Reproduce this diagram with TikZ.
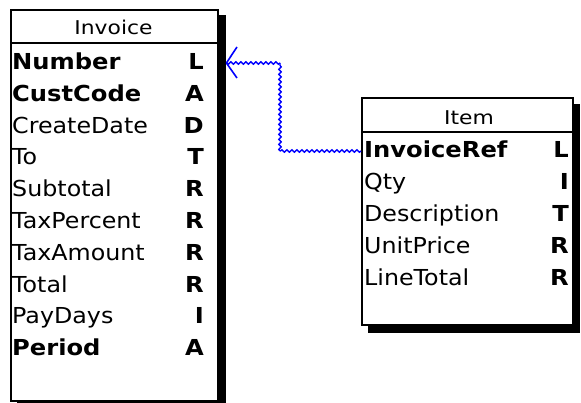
\documentclass[tikz,border=0pt]{standalone}
\usepackage{fontspec}
\newfontfamily\gen{DejaVu Sans}[FakeStretch=1.08]
\newfontfamily\genb{DejaVu Sans}[FakeStretch=1.1]
\newfontfamily\genh{DejaVu Sans}[FakeStretch=1.15]
\usetikzlibrary{decorations.pathmorphing}
\begin{document}
\begin{tikzpicture}[x=1pt,y=-1pt,
  boxframe/.style={draw=black, line width=1.6pt, fill=white, inner sep=0pt, anchor=north west},
  shadowbox/.style={fill=black, inner sep=0pt, anchor=north west},
  sepline/.style={draw=black, line width=1.6pt},
  fld/.style={anchor=base west, inner sep=0pt, font=\gen\fontsize{22}{24}\selectfont},
  bfld/.style={anchor=base west, inner sep=0pt, font=\genb\bfseries\fontsize{22}{24}\selectfont},
  typ/.style={anchor=base east, inner sep=0pt, font=\genb\bfseries\fontsize{22}{24}\selectfont},
  hdr/.style={anchor=base, inner sep=0pt, font=\genh\fontsize{19}{22}\selectfont},
  wavy/.style={draw=blue, line width=1.4pt, decorate, decoration={snake, amplitude=1.2pt, segment length=5pt}},
  prong/.style={draw=blue, line width=1.6pt}]
\useasboundingbox (0,0) rectangle (581,403);
\clip (0,0) rectangle (581,403);
\fill[white] (0,0) rectangle (581,403);

% Invoice table
\node[shadowbox, minimum width=209pt, minimum height=400pt] (invsh) at (17,15) {};
\node[boxframe, minimum width=207pt, minimum height=391pt] (inv) at (10,9) {};
\draw[sepline] ([yshift=-34pt]inv.north west) -- ([yshift=-34pt]inv.north east);
\node[hdr] (invhdr) at (113.5,35) {Invoice};
\node[bfld] (invA) at (12,69.5) {Number};      \node[typ] (invAt) at (204,69.5) {L};
\node[bfld] (invB) at (12,101.3) {CustCode};  \node[typ] (invBt) at (204,101.3) {A};
\node[fld]  (invC) at (12,133.1) {CreateDate}; \node[typ] (invCt) at (204,133.1) {D};
\node[fld]  (invD) at (12,164.9) {To};        \node[typ] (invDt) at (204,164.9) {T};
\node[fld]  (invE) at (12,196.7) {Subtotal};  \node[typ] (invEt) at (204,196.7) {R};
\node[fld]  (invF) at (12,228.5) {TaxPercent}; \node[typ] (invFt) at (204,228.5) {R};
\node[fld]  (invG) at (12,260.3) {TaxAmount}; \node[typ] (invGt) at (204,260.3) {R};
\node[fld]  (invH) at (12,292.1) {Total};     \node[typ] (invHt) at (204,292.1) {R};
\node[fld]  (invI) at (12,323.9) {PayDays};   \node[typ] (invIt) at (204,323.9) {I};
\node[bfld] (invJ) at (12,355.7) {Period};    \node[typ] (invJt) at (204,355.7) {A};

% Item table
\node[shadowbox, minimum width=212pt, minimum height=229pt] (itemsh) at (368,104) {};
\node[boxframe, minimum width=211pt, minimum height=227pt] (item) at (361,97) {};
\draw[sepline] ([yshift=-35pt]item.north west) -- ([yshift=-35pt]item.north east);
\node[hdr] (itemhdr) at (469,125) {Item};
\node[bfld] (itA) at (364,158) {InvoiceRef};  \node[typ] (itAt) at (569,158) {L};
\node[fld]  (itB) at (364,189.8) {Qty};       \node[typ] (itBt) at (569,189.8) {I};
\node[fld]  (itC) at (364,221.6) {Description}; \node[typ] (itCt) at (569,221.6) {T};
\node[fld]  (itD) at (364,253.4) {UnitPrice}; \node[typ] (itDt) at (569,253.4) {R};
\node[fld]  (itE) at (364,285.2) {LineTotal}; \node[typ] (itEt) at (569,285.2) {R};

% Relationship connector
\coordinate (cstart) at (item.west |- 0,151);
\coordinate (cb1) at (280,151);
\coordinate (cb2) at (280,63);
\coordinate (cfoot) at (invsh.east |- 0,63);
\draw[wavy] (cstart) -- (cb1);
\draw[wavy] (cb1) -- (cb2);
\draw[wavy] (cb2) -- (cfoot);
\draw[prong] (cfoot) -- (237,47);
\draw[prong] (cfoot) -- (237,78);
\end{tikzpicture}
\end{document}
